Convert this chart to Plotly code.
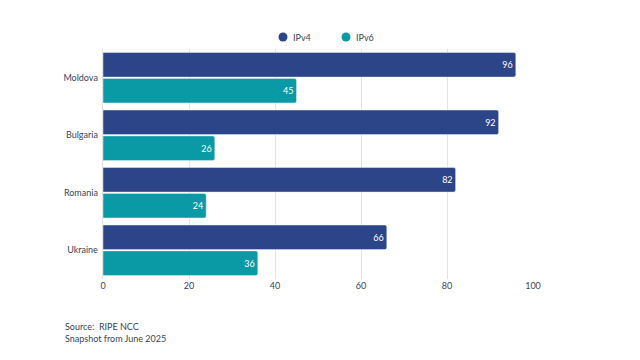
import plotly.graph_objects as go

countries = ["Moldova", "Bulgaria", "Romania", "Ukraine"]
ipv4 = [96, 92, 82, 66]
ipv6 = [45, 26, 24, 36]
tick_vals = [0, 20, 40, 60, 80, 100]
series_names = ["IPv4", "IPv6"]

C4 = "#2c4488"
C6 = "#0a9aa5"
TXT = "#3b3f5e"
FONT = "Lato"
colors = [C4, C6]

fig = go.Figure()
for name, vals, col in zip(series_names, [ipv4, ipv6], colors):
    fig.add_trace(go.Bar(name=name, y=countries, x=vals, orientation="h",
                         marker=dict(color=col, cornerradius=2),
                         text=vals, textposition="inside", insidetextanchor="end",
                         textfont=dict(color="white", size=9, family=FONT)))

# custom legend with round markers, placed above the plot
shapes = []
annotations = []
legend_x = [0.4186, 0.5651]
legend_y = 1.052
for name, col, lx in zip(series_names, colors, legend_x):
    shapes.append(dict(type="circle", xref="paper", yref="paper",
                       xsizemode="pixel", ysizemode="pixel",
                       xanchor=lx, yanchor=legend_y,
                       x0=-4.5, x1=4.5, y0=-4.5, y1=4.5,
                       fillcolor=col, line=dict(width=0)))
    annotations.append(dict(text=name, xref="paper", yref="paper",
                            x=lx + 0.0186, y=legend_y, xanchor="left",
                            yanchor="middle", showarrow=False,
                            font=dict(size=9, color=TXT)))

annotations.append(dict(text="Source:  RIPE NCC<br>Snapshot from June 2025",
                        xref="paper", yref="paper", x=-0.092, y=-0.176,
                        xanchor="left", yanchor="top", align="left",
                        showarrow=False, font=dict(size=9, color=TXT)))

fig.update_layout(
    width=640, height=360,
    margin=dict(l=95, r=115, t=41, b=89, autoexpand=False),
    barmode="group", bargap=0.1, bargroupgap=0.05,
    paper_bgcolor="white", plot_bgcolor="white",
    font=dict(family=FONT, size=9, color=TXT),
    showlegend=False,
    uniformtext=dict(mode="show", minsize=8),
    xaxis=dict(range=[0, 100], tickvals=tick_vals, showgrid=True,
               gridcolor="#e3e3e3", gridwidth=1, zeroline=False,
               showline=False, ticks="", automargin=False,
               tickfont=dict(size=9, color=TXT)),
    yaxis=dict(autorange="reversed", showgrid=False, ticks="", ticklen=0,
               ticksuffix=" ", showline=True, linecolor="#e3e3e3",
               automargin=False, tickfont=dict(size=9, color=TXT)),
    shapes=shapes,
    annotations=annotations,
)
fig.write_html("out.html")
